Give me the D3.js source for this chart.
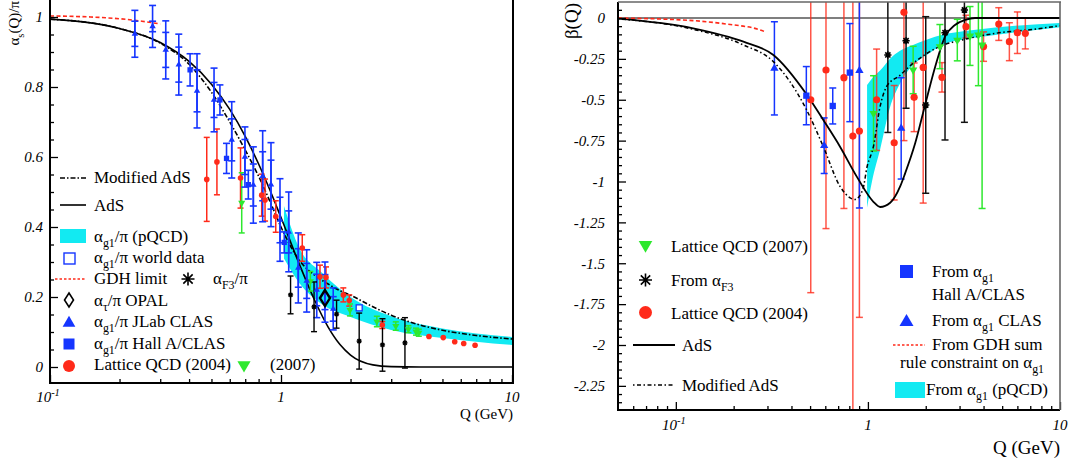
<!DOCTYPE html>
<html>
<head>
<meta charset="utf-8">
<script src="https://cdn.jsdelivr.net/npm/d3@7"></script>
<style>
  body { margin: 0; background: #fff; }
  text { font-family: "Liberation Serif", "Times New Roman", serif; }
</style>
</head>
<body>
<svg id="chart" width="1069" height="462"></svg>
<script>
// ---------------- left panel: alpha_s(Q)/pi ----------------
const clasQ   = [0.233,0.278,0.317,0.361,0.433,0.513,0.612,0.698,0.759,0.833,0.905,0.99,1.08,1.188,1.292,1.428,1.55,1.683];
const clasA   = [0.952,0.973,0.906,0.864,0.789,0.763,0.649,0.60,0.52,0.545,0.521,0.42,0.386,0.283,0.246,0.22,0.214,0.166];
const clasErr = [0.067,0.06,0.083,0.087,0.106,0.091,0.109,0.086,0.109,0.13,0.12,0.118,0.114,0.1,0.089,0.079,0.086,0.06];
const clasSys = [0.036,0.015,0.05,0.05,0.06,0.05,0.06,0.05,0.06,0.07,0.07,0.065,0.06,0.055,0.05,0.045,0.05,0.035];

const hallQ   = [0.404,0.544,0.581,0.722,1.033];
const hallA   = [0.849,0.763,0.596,0.521,0.356];
const hallErr = [0.046,0.043,0.043,0.041,0.03];

const worldQ = [2.18];
const worldA = [0.169];

const lat04Q   = [0.477,0.528,0.668,0.825,0.853,0.949,1.236,1.475,1.566,1.861,1.975,2.745,4.37,5.04,5.65,6.18,6.92];
const lat04A   = [0.536,0.586,0.54,0.491,0.477,0.43,0.34,0.258,0.256,0.206,0.19,0.12,0.087,0.084,0.072,0.067,0.062];
const lat04Err = [0.12,0.094,0.086,0.06,0.06,0.045,0.038,0.033,0.03,0.02,0.016,0.01,0,0,0,0,0];

const lat07Q   = [0.676,1.34,1.99,2.6,3.14,3.56,3.84,3.95];
const lat07A   = [0.469,0.245,0.163,0.13,0.117,0.108,0.101,0.098];
const lat07Err = [0.086,0.028,0.017,0.015,0.012,0.01,0.01,0.01];

const f3Q   = [1.10,1.39,1.74,2.18,2.75,3.44];
const f3A   = [0.206,0.172,0.151,0.074,0.063,0.069];
const f3Err = [0.054,0.071,0.04,0.08,0.075,0.072];

const opalQ = [1.55];
const opalA = [0.197];

const adsQ = [0.1,0.2,0.3,0.4,0.5,0.6,0.7,0.8,0.9,1.0,1.2,1.4,1.6,1.8,2.0,2.5,3.0,4.0,10];
const adsA = [0.994,0.967,0.927,0.873,0.808,0.736,0.659,0.580,0.502,0.427,0.294,0.190,0.114,0.064,0.034,0.006,0.001,0,0];

const modQ = [0.1,0.2,0.3,0.4,0.5,0.6,0.7,0.8,0.9,1.0,1.1,1.2,1.4,1.6,1.8,2.0,2.5,3.0,4.0,5.0,7.0,10];
const modA = [0.994,0.967,0.925,0.865,0.785,0.70,0.62,0.545,0.47,0.40,0.345,0.305,0.262,0.237,0.218,0.205,0.172,0.148,0.12,0.105,0.09,0.08];

const gdhQ = [0.1,0.15,0.2,0.25,0.3];
const gdhA = [1.003,1.0,0.995,0.988,0.98];

const bandQ  = [1.03,1.2,1.5,2,3,5,10];
const bandHi = [0.46,0.34,0.27,0.2,0.145,0.11,0.086];
const bandLo = [0.31,0.24,0.18,0.143,0.106,0.083,0.063];

const leftYTicks  = [0,0.2,0.4,0.6,0.8,1];
const leftYLabels = ["0","0.2","0.4","0.6","0.8","1"];
const xMajor      = [0.1,1,10];
const xMajorText  = [["10","-1"],["1",""],["10",""]];

// ---------------- right panel: beta(Q) ----------------
const bClasQ   = [0.326,0.592,0.903,1.49];
const bClasB   = [-0.308,-0.781,-0.322,-0.675];
const bClasErr = [0.285,0.17,0.84,0.31];

const bHallQ   = [0.478,0.656,0.805];
const bHallB   = [-0.475,-0.538,-0.334];
const bHallErr = [0.178,0.11,0.3];

const bLat04Q   = [0.504,0.605,0.75,0.835,0.903,1.11,1.37,1.54,1.74,1.94,2.43,3.24,4.0,4.8,5.45,6.0,6.6];
const bLat04B   = [-0.5,-0.318,-0.365,-0.722,-0.691,-0.50,-0.763,0.035,-0.485,-0.302,-0.363,-0.053,-0.175,-0.037,-0.145,-0.09,-0.094];
const bLat04Err = [1.18,0.97,0.8,2.0,1.14,0.31,0.35,0.785,0.21,0.83,0.09,0.07,0.09,0.1,0.116,0.127,0.095];

const bLat07Q   = [1.07,1.72,2.37,2.92,3.4,3.76,3.93];
const bLat07B   = [-0.583,-0.318,-0.175,-0.135,-0.11,-0.104,-0.165];
const bLat07Err = [0.23,0.145,0.135,0.127,0.18,0.31,1.0];

const bF3Q   = [1.27,1.58,2.0,2.52,3.18];
const bF3B   = [-0.226,-0.139,-0.532,-0.09,0.049];
const bF3Err = [0.474,0.413,0.54,0.656,0.687];

const bAdsQ = [0.05,0.123,0.225,0.322,0.48,0.586,0.716,0.875,1.068,1.158,1.306,1.472,1.562,1.762,1.986,2.24,2.52,2.84,3.21,3.61,5,10];
const bAdsB = [-0.004,-0.063,-0.145,-0.226,-0.468,-0.624,-0.787,-0.97,-1.124,-1.156,-1.13,-1.03,-0.95,-0.766,-0.53,-0.298,-0.114,-0.043,-0.012,0,0,0];

const bModQ = [0.05,0.123,0.225,0.322,0.48,0.586,0.716,0.808,0.855,0.94,0.99,1.068,1.158,1.25,1.47,1.68,2.36,3.21,4.6,7.3,10];
const bModB = [-0.005,-0.069,-0.165,-0.267,-0.563,-0.787,-1.03,-1.10,-1.11,-1.05,-0.91,-0.787,-0.54,-0.42,-0.35,-0.287,-0.175,-0.13,-0.094,-0.069,-0.047];

const bGdhQ = [0.05,0.123,0.184,0.275,0.292];
const bGdhB = [0,-0.016,-0.037,-0.073,-0.084];

const bBandQ  = [0.99,1.05,1.16,1.3,1.47,1.68,2.0,2.5,3.2,4.6,10];
const bBandHi = [-0.41,-0.37,-0.32,-0.25,-0.2,-0.17,-0.135,-0.1,-0.08,-0.058,-0.03];
const bBandLo = [-1.16,-1.0,-0.80,-0.55,-0.4,-0.30,-0.23,-0.16,-0.13,-0.104,-0.057];

const rightYTicks  = [0,-0.25,-0.5,-0.75,-1,-1.25,-1.5,-1.75,-2,-2.25];
const rightYLabels = ["0","-0.25","-0.5","-0.75","-1","-1.25","-1.5","-1.75","-2","-2.25"];

// ---------------- colours ----------------
const CYAN = "#12eaf2", BLUE = "#1535ff", RED = "#ff2a1a", GREEN = "#2ee82e";

const svg = d3.select("#chart");

function makePanel(id, xs, ys, box) {
    svg.append("clipPath").attr("id", id).append("rect")
        .attr("x", box.left).attr("y", box.top)
        .attr("width", box.right - box.left).attr("height", box.bottom - box.top);
    const plot = svg.append("g").attr("clip-path", `url(#${id})`);
    return { x: xs, y: ys, plot: plot, box: box };
}

const L = makePanel("clipL",
    d3.scaleLog().domain([0.1, 10]).range([50, 512]),
    d3.scaleLinear().domain([0, 1]).range([367, 17]),
    { left: 50, right: 513, top: 0, bottom: 383 });

const R = makePanel("clipR",
    d3.scaleLog().domain([0.05, 10]).range([618, 1060]),
    d3.scaleLinear().domain([0, -1]).range([18, 181.5]),
    { left: 618, right: 1060, top: 2, bottom: 410 });

function richText(g, x, y, parts, size, anchor, style) {
    const t = g.append("text").attr("x", x).attr("y", y)
        .attr("font-size", size).attr("text-anchor", anchor || "start")
        .attr("font-style", style || "normal").attr("fill", "#000");
    let shift = 0;
    parts.forEach(p => {
        const kind = p[1] || "";
        const dy = kind === "sub" ? size * 0.3 : kind === "sup" ? -size * 0.42 : 0;
        t.append("tspan").attr("dy", dy - shift)
            .attr("font-size", kind ? size * 0.7 : size).text(p[0]);
        shift = dy;
    });
    return t;
}

function band(p, Q, hi, lo) {
    const area = d3.area().x(d => p.x(d[0])).y0(d => p.y(d[2])).y1(d => p.y(d[1]))
        .curve(d3.curveMonotoneX);
    p.plot.append("path").attr("d", area(d3.zip(Q, hi, lo))).attr("fill", CYAN);
}

function curve(p, Q, V, color, width, dash) {
    const line = d3.line().x(d => p.x(d[0])).y(d => p.y(d[1])).curve(d3.curveMonotoneX);
    p.plot.append("path").attr("d", line(d3.zip(Q, V)))
        .attr("fill", "none").attr("stroke", color).attr("stroke-width", width)
        .attr("stroke-dasharray", dash || null);
}

function errBars(p, Q, V, E, color, cap, width, opacity) {
    const g = p.plot.append("g").attr("stroke", color).attr("stroke-width", width)
        .attr("stroke-opacity", opacity || 1);
    Q.forEach((q, i) => {
        if (!E[i]) return;
        const cx = p.x(q), y1 = p.y(V[i] + E[i]), y2 = p.y(V[i] - E[i]);
        g.append("line").attr("x1", cx).attr("x2", cx).attr("y1", y1).attr("y2", y2);
        [y1, y2].forEach(yy => g.append("line")
            .attr("x1", cx - cap).attr("x2", cx + cap).attr("y1", yy).attr("y2", yy));
    });
}

function symbols(g, pts, type, size, fill, rot) {
    g.selectAll(null).data(pts).enter().append("path")
        .attr("d", d3.symbol().type(type).size(size))
        .attr("transform", d => `translate(${d[0]},${d[1]})` + (rot ? " rotate(180)" : ""))
        .attr("fill", fill);
}

function asterisk(g, cx, cy, r, width) {
    const a = r * 0.72;
    g.append("path")
        .attr("d", `M${cx - r},${cy}L${cx + r},${cy}M${cx},${cy - r}L${cx},${cy + r}` +
                   `M${cx - a},${cy - a}L${cx + a},${cy + a}M${cx - a},${cy + a}L${cx + a},${cy - a}`)
        .attr("stroke", "#000").attr("stroke-width", width).attr("fill", "none");
}

function pts(p, Q, V) { return Q.map((q, i) => [p.x(q), p.y(V[i])]); }

// ---------------- axes ----------------
function drawAxes(p, yTicks, yLabels, yMinor, xMinor, xLabelY, yPad) {
    const b = p.box;
    const ya = svg.append("g").attr("transform", `translate(${b.left},0)`)
        .call(d3.axisLeft(p.y).tickValues(yTicks).tickSize(-8).tickPadding(yPad)
            .tickFormat((d, i) => yLabels[i]));
    ya.select(".domain").remove();
    ya.selectAll("text").attr("font-family", '"Liberation Serif", serif')
        .attr("font-style", "italic").attr("font-size", 15).attr("fill", "#000");
    const ym = svg.append("g").attr("transform", `translate(${b.left},0)`)
        .call(d3.axisLeft(p.y).tickValues(yMinor).tickSize(-4).tickFormat(""));
    ym.select(".domain").remove();

    const xa = svg.append("g").attr("transform", `translate(0,${b.bottom})`)
        .call(d3.axisBottom(p.x).tickValues(xMajor).tickSize(-8).tickFormat(""));
    xa.select(".domain").remove();
    const xm = svg.append("g").attr("transform", `translate(0,${b.bottom})`)
        .call(d3.axisBottom(p.x).tickValues(xMinor).tickSize(-4).tickFormat(""));
    xm.select(".domain").remove();
    svg.selectAll(".tick line").attr("stroke", "#000").attr("stroke-width", 1.3);

    xMajor.forEach((v, i) => {
        const parts = [[xMajorText[i][0]]];
        if (xMajorText[i][1]) parts.push([xMajorText[i][1], "sup"]);
        richText(svg, p.x(v) - (xMajorText[i][1] ? 2 : 0), xLabelY, parts, 15, "middle", "italic");
    });

    svg.append("line").attr("x1", b.left).attr("x2", b.left).attr("y1", b.top).attr("y2", b.bottom + 1)
        .attr("stroke", "#000").attr("stroke-width", 2);
    svg.append("line").attr("x1", b.left - 1).attr("x2", b.right).attr("y1", b.bottom).attr("y2", b.bottom)
        .attr("stroke", "#000").attr("stroke-width", 2);
}

// ================= LEFT PANEL =================
band(L, bandQ, bandHi, bandLo);
curve(L, modQ, modA, "#000", 1.6, "5,2,1.5,2");
curve(L, adsQ, adsA, "#000", 1.6);
curve(L, gdhQ, gdhA, RED, 1.6, "4,2.5");

errBars(L, lat04Q, lat04A, lat04Err, RED, 3, 1.5);
errBars(L, lat07Q, lat07A, lat07Err, GREEN, 3, 1.5);
errBars(L, clasQ, clasA, clasErr, BLUE, 3.5, 1.6);
errBars(L, clasQ, clasA, clasSys, BLUE, 3.5, 1.6);
errBars(L, hallQ, hallA, hallErr, BLUE, 3.5, 1.6);
errBars(L, f3Q, f3A, f3Err, "#000", 3, 1.4);

L.plot.selectAll(null).data(pts(L, lat04Q, lat04A)).enter().append("circle")
    .attr("cx", d => d[0]).attr("cy", d => d[1]).attr("r", 2.8).attr("fill", RED);
symbols(L.plot, pts(L, lat07Q, lat07A), d3.symbolTriangle, 22, GREEN, true);
symbols(L.plot, pts(L, clasQ, clasA), d3.symbolTriangle, 18, BLUE);
symbols(L.plot, pts(L, hallQ, hallA), d3.symbolSquare, 28, BLUE);
pts(L, worldQ, worldA).forEach(d => L.plot.append("rect")
    .attr("x", d[0] - 3).attr("y", d[1] - 3).attr("width", 6).attr("height", 6)
    .attr("fill", "#fff").attr("stroke", BLUE).attr("stroke-width", 1.3));
pts(L, f3Q, f3A).forEach(d => asterisk(L.plot, d[0], d[1], 2.6, 1.3));
pts(L, opalQ, opalA).forEach(d => L.plot.append("path")
    .attr("d", `M${d[0]},${d[1] - 8}L${d[0] + 5},${d[1]}L${d[0]},${d[1] + 8}L${d[0] - 5},${d[1]}Z`)
    .attr("fill", "none").attr("stroke", "#000").attr("stroke-width", 2.4));

drawAxes(L, leftYTicks, leftYLabels, d3.range(0.05, 1.04, 0.05).filter(v => Math.abs(v * 5 - Math.round(v * 5)) > 1e-6),
    [0.2,0.3,0.4,0.5,0.6,0.7,0.8,0.9,2,3,4,5,6,7,8,9], 402, 7);
svg.append("line").attr("x1", 513).attr("x2", 513).attr("y1", 0).attr("y2", 384)
    .attr("stroke", "#000").attr("stroke-width", 2);

richText(svg, 0, 0, [["α"], ["s", "sub"], ["(Q)/π"]], 15, "end")
    .attr("transform", "translate(19,1) rotate(-90)");
richText(svg, 513, 419, [["Q (GeV)"]], 15, "end");

// left legend
const lg = svg.append("g");
lg.append("line").attr("x1", 60).attr("x2", 86).attr("y1", 178).attr("y2", 178)
    .attr("stroke", "#000").attr("stroke-width", 1.6).attr("stroke-dasharray", "5,2,1.5,2");
richText(lg, 94, 183, [["Modified AdS"]], 17);
lg.append("line").attr("x1", 60).attr("x2", 86).attr("y1", 205).attr("y2", 205)
    .attr("stroke", "#000").attr("stroke-width", 1.6);
richText(lg, 94, 211, [["AdS"]], 17);
lg.append("rect").attr("x", 60).attr("y", 229).attr("width", 26).attr("height", 14).attr("fill", CYAN);
richText(lg, 94, 242, [["α"], ["g1", "sub"], ["/π (pQCD)"]], 17);
lg.append("rect").attr("x", 64).attr("y", 253).attr("width", 11).attr("height", 11)
    .attr("fill", "#fff").attr("stroke", BLUE).attr("stroke-width", 1.4);
richText(lg, 94, 263, [["α"], ["g1", "sub"], ["/π world data"]], 17);
lg.append("line").attr("x1", 55).attr("x2", 86).attr("y1", 279).attr("y2", 279)
    .attr("stroke", RED).attr("stroke-width", 1.4).attr("stroke-dasharray", "2.5,2");
richText(lg, 94, 284, [["GDH limit"]], 17);
asterisk(lg, 188, 279, 6.5, 1.6);
richText(lg, 213, 284, [["α"], ["F3", "sub"], ["/π"]], 17);
lg.append("path").attr("d", "M69,293L73.5,300L69,307L64.5,300Z")
    .attr("fill", "none").attr("stroke", "#000").attr("stroke-width", 1.6);
richText(lg, 94, 306, [["α"], ["τ", "sub"], ["/π OPAL"]], 17);
symbols(lg, [[69, 323]], d3.symbolTriangle, 70, BLUE);
richText(lg, 94, 327, [["α"], ["g1", "sub"], ["/π JLab CLAS"]], 17);
lg.append("rect").attr("x", 63.5).attr("y", 338.5).attr("width", 11).attr("height", 11).attr("fill", BLUE);
richText(lg, 94, 349, [["α"], ["g1", "sub"], ["/π Hall A/CLAS"]], 17);
lg.append("circle").attr("cx", 69).attr("cy", 366).attr("r", 6).attr("fill", RED);
richText(lg, 94, 370, [["Lattice QCD (2004)"]], 17);
symbols(lg, [[244, 365]], d3.symbolTriangle, 75, GREEN, true);
richText(lg, 270, 370, [["(2007)"]], 17);

// ================= RIGHT PANEL =================
R.plot.append("line").attr("x1", 618).attr("x2", 1060).attr("y1", R.y(0)).attr("y2", R.y(0))
    .attr("stroke", "#555").attr("stroke-width", 1.6);
band(R, bBandQ, bBandHi, bBandLo);

errBars(R, bLat04Q, bLat04B, bLat04Err, RED, 3.5, 1.5, 0.8);
errBars(R, bLat07Q, bLat07B, bLat07Err, GREEN, 3.5, 1.5);
errBars(R, bF3Q, bF3B, bF3Err, "#111", 3.5, 1.5);
errBars(R, bClasQ, bClasB, bClasErr, BLUE, 3.5, 1.5);
errBars(R, bHallQ, bHallB, bHallErr, BLUE, 3.5, 1.5);

curve(R, bModQ, bModB, "#000", 1.5, "1.5,2.5,4,2.5");
curve(R, bAdsQ, bAdsB, "#000", 1.8);
curve(R, bGdhQ, bGdhB, RED, 1.6, "4,2.5");

R.plot.selectAll(null).data(pts(R, bLat04Q, bLat04B)).enter().append("circle")
    .attr("cx", d => d[0]).attr("cy", d => d[1]).attr("r", 3.6).attr("fill", RED);
symbols(R.plot, pts(R, bLat07Q, bLat07B), d3.symbolTriangle, 30, GREEN, true);
symbols(R.plot, pts(R, bClasQ, bClasB), d3.symbolTriangle, 30, BLUE);
symbols(R.plot, pts(R, bHallQ, bHallB), d3.symbolSquare, 40, BLUE);
pts(R, bF3Q, bF3B).forEach(d => asterisk(R.plot, d[0], d[1], 3.6, 1.6));

drawAxes(R, rightYTicks, rightYLabels,
    d3.range(0.05, -2.36, -0.05).filter(v => Math.abs(v * 4 - Math.round(v * 4)) > 1e-6),
    [0.06,0.07,0.08,0.09,0.2,0.3,0.4,0.5,0.6,0.7,0.8,0.9,2,3,4,5,6,7,8,9], 430, 13);
svg.append("line").attr("x1", 618).attr("x2", 1061).attr("y1", 2).attr("y2", 2)
    .attr("stroke", "#666").attr("stroke-width", 1.6);
svg.append("line").attr("x1", 1060).attr("x2", 1060).attr("y1", 2).attr("y2", 410)
    .attr("stroke", "#666").attr("stroke-width", 1.6);

richText(svg, 0, 0, [["β(Q)"]], 19, "end").attr("transform", "translate(578,3) rotate(-90)");
richText(svg, 1060, 454, [["Q (GeV)"]], 19, "end");

// right legends
const rg = svg.append("g");
symbols(rg, [[645.5, 245]], d3.symbolTriangle, 80, GREEN, true);
richText(rg, 671, 252, [["Lattice QCD (2007)"]], 17);
asterisk(rg, 645.5, 280, 6.5, 1.6);
richText(rg, 671, 286, [["From α"], ["F3", "sub"]], 17);
rg.append("circle").attr("cx", 645.5).attr("cy", 312.5).attr("r", 6.5).attr("fill", RED);
richText(rg, 671, 319, [["Lattice QCD (2004)"]], 17);
rg.append("line").attr("x1", 633).attr("x2", 675).attr("y1", 345).attr("y2", 345)
    .attr("stroke", "#000").attr("stroke-width", 1.8);
richText(rg, 682, 351, [["AdS"]], 17);
rg.append("line").attr("x1", 633).attr("x2", 675).attr("y1", 385).attr("y2", 385)
    .attr("stroke", "#000").attr("stroke-width", 1.4).attr("stroke-dasharray", "1.5,2.5,4,2.5");
richText(rg, 682, 391, [["Modified AdS"]], 17);

rg.append("rect").attr("x", 900).attr("y", 265).attr("width", 13).attr("height", 13).attr("fill", BLUE);
richText(rg, 932, 277, [["From α"], ["g1", "sub"]], 17);
richText(rg, 932, 300, [["Hall A/CLAS"]], 17);
symbols(rg, [[906.5, 322]], d3.symbolTriangle, 85, BLUE);
richText(rg, 932, 326, [["From α"], ["g1", "sub"], [" CLAS"]], 17);
rg.append("line").attr("x1", 893).attr("x2", 925).attr("y1", 345).attr("y2", 345)
    .attr("stroke", RED).attr("stroke-width", 1.4).attr("stroke-dasharray", "2.5,2");
richText(rg, 932, 350, [["From GDH sum"]], 17);
richText(rg, 900, 368, [["rule constraint on α"], ["g1", "sub"]], 17);
rg.append("rect").attr("x", 895).attr("y", 382).attr("width", 30).attr("height", 16).attr("fill", CYAN);
richText(rg, 926, 395, [["From α"], ["g1", "sub"], [" (pQCD)"]], 17);
</script>
</body>
</html>
